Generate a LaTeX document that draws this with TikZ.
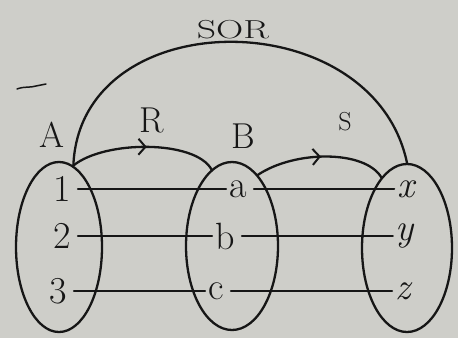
\documentclass[tikz,border=0pt]{standalone}
\usetikzlibrary{shapes.geometric,arrows.meta,decorations.markings}
\definecolor{paper}{RGB}{206,206,201}
\definecolor{ink}{RGB}{22,22,22}
\begin{document}
\begin{tikzpicture}[x=1pt,y=-1pt,
  inkline/.style={draw=ink,line width=2.3pt,line cap=round,line join=round},
  setbox/.style={ellipse,draw=ink,line width=2.3pt,inner sep=0pt},
  elem/.style={text=ink,font=\fontsize{38}{40}\selectfont,inner sep=3pt},
  lbl/.style={text=ink,font=\fontsize{36}{38}\selectfont,inner sep=0pt},
  link/.style={inkline,line width=2pt,shorten <=4pt},
  midarrow/.style={postaction={decorate},decoration={markings,mark=at position #1 with {\arrow{Straight Barb[length=7pt,width=16pt,line width=2pt]}}}},
]
\fill[paper] (0,0) rectangle (458,338);
\useasboundingbox (0,0) rectangle (458,338);

% sets
\node[setbox,minimum width=86pt,minimum height=170pt] (eA) at (59,247) {};
\node[setbox,minimum width=92pt,minimum height=168pt] (eB) at (232,246) {};
\node[setbox,minimum width=90pt,minimum height=168pt] (eC) at (407,248) {};

% elements
\node[elem] (n1) at (62,189) {1};
\node[elem] (n2) at (62,236) {2};
\node[elem] (n3) at (58,291) {3};
\node[elem] (na) at (238,189) {a};
\node[elem] (nb) at (225,236) {b};
\node[elem] (nc) at (216,291) {c};
\node[elem] (nx) at (406,189) {\itshape x};
\node[elem] (ny) at (405,236) {\itshape y};
\node[elem] (nz) at (403,291) {\itshape z};

% mapping lines
\draw[link] (n1) -- (na);
\draw[link] (n2) -- (nb);
\draw[link] (n3) -- (nc);
\draw[link] (na) -- (nx);
\draw[link] (nb) -- (ny);
\draw[link] (nc) -- (nz);

% labels
\node[lbl] (lA) at (52,135) {A};
\node[lbl] (lB) at (243,136) {B};
\node[lbl] (lR) at (152,120) {R};
\node[lbl,font=\fontsize{26}{28}\selectfont] (lS) at (345,122) {S};
\node[lbl,font=\fontsize{26}{28}\selectfont,xscale=1.45] (lSOR) at (233,30) {SOR};

% relation arcs
\draw[inkline,midarrow=0.52] (eA.80) .. controls (105,140) and (195,140) .. (eB.105);
\draw[inkline,midarrow=0.5] (eB.70) .. controls (295,150) and (365,150) .. (eC.110);
\draw[inkline] (eA.80) .. controls (80,1) and (373,1) .. (eC.north);

% stray mark
\draw[inkline,line width=1.5pt] (17,89) .. controls (25,86) and (30,88) .. (36,86) -- (46,84);
\end{tikzpicture}
\end{document}
